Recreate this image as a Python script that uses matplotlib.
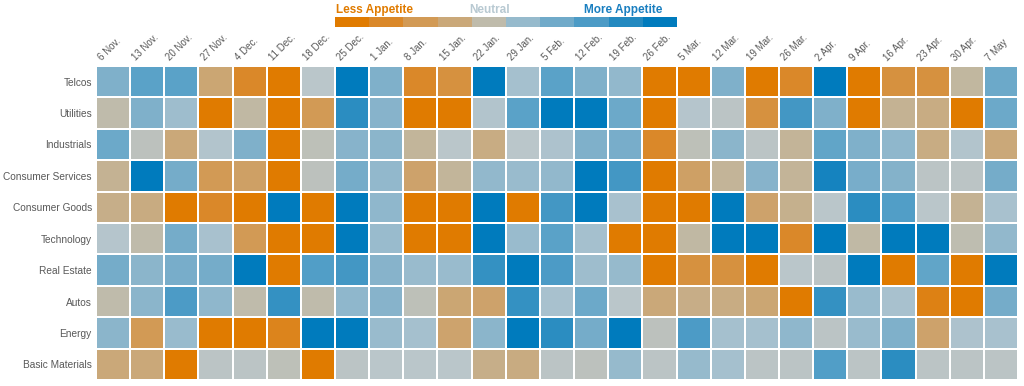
import matplotlib
matplotlib.use("Agg")
import matplotlib.pyplot as plt
import numpy as np
from matplotlib.colors import LinearSegmentedColormap, Normalize
from matplotlib import font_manager

dates = ["6 Nov.", "13 Nov.", "20 Nov.", "27 Nov.", "4 Dec.", "11 Dec.", "18 Dec.", "25 Dec.",
         "1 Jan.", "8 Jan.", "15 Jan.", "22 Jan.", "29 Jan.", "5 Feb.", "12 Feb.", "19 Feb.",
         "26 Feb.", "5 Mar.", "12 Mar.", "19 Mar.", "26 Mar.", "2 Apr.", "9 Apr.", "16 Apr.",
         "23 Apr.", "30 Apr.", "7 May"]
sectors = ["Telcos", "Utilities", "Industrials", "Consumer Services", "Consumer Goods",
           "Technology", "Real Estate", "Autos", "Energy", "Basic Materials"]

# appetite score: -5 = less appetite, 0 = neutral, +5 = more appetite
telcos = [2, 3, 3, -2, -4, -5, 0.5, 5, 2, -4, -3.5, 5, 1, 3, 2, 1.5, -5, -5, 2, -5, -4, 5, -5, -3.5, -3.5, -0.5, 2.5]
utilities = [0, 2, 1.2, -5, -0.3, -5, -3, 4, 1.8, -5, -5, 0.7, 3, 5, 5, 2.5, -5, 0.6, 0.4, -3.5, 3.5, 2, -5, -1, -1.5, -5, 2.5]
industrials = [2.5, 0.3, -1.8, 0.7, 2, -5, 0.2, 1.8, 1.7, -0.7, 0.5, -1.5, 0.5, 0.8, 2, 2.2, -4, 0.2, 1.7, 0.4, -0.8, 2.8, 2, 1.6, -1.5, 0.7, -1.8]
consumer_services = [-1, 5, 2.3, -3, -2.5, -5, 0.3, 2.3, 1.5, -2.3, -0.7, 1.5, 1.3, 1.5, 5, 3.5, -5, -2.5, -0.8, 1.8, -0.8, 4.5, 2.2, 1.9, 0.4, 0.4, 2.3]
consumer_goods = [-1.3, -1.6, -5, -4, -5, 5, -5, 5, 1.6, -5, -5, 5, -5, 3.5, 5, 0.9, -5, -5, 5, -2.3, -1.2, 0.5, 4, 3.2, 0.5, -1, 0.9]
technology = [0.6, 0, 2.3, 0.9, -3, -5, -5, 5, 1.3, -5, -5, 5, 1.3, 3, 1, -5, -5, -0.3, 5, 5, -4, 5, -0.2, 5, 5, 0.1, 1.5]
real_estate = [2.3, 1.7, 2.2, 2.3, 5, -5, 3.2, 3.5, 1.8, 1.3, 1.3, 3.8, 5, 3.3, 1.2, 1.4, -5, -3.5, -3.5, -5, 0.5, 0.4, 5, -5, 2.8, -5, 5]
autos = [0, 1.7, 3.3, 1.6, 0, 3.8, 0, 1.6, 1.8, 0.2, -2, -2.3, 3.8, 0.9, 2.5, 0.5, -1.8, -1.4, -1.5, -2, -5, 3.8, 1.3, 0.9, -4.5, -5, 2.3]
energy = [1.7, -3, 1.3, -5, -5, -4.3, 5, 5, 1.3, 1.0, -2.2, 1.7, 5, 4, 2.3, 5, 0.3, 3.3, 1.0, 1.0, 1.6, 0.4, 1.3, 2, -2.3, 0.8, 0.9]
basic_materials = [-1.8, -1.8, -5, 0.4, 0.4, 0.2, -5, 0.4, 0.5, 0.5, 0.5, -1.3, -1.6, 0.4, 0.3, 1.4, 0.4, 1.4, 1.0, 0.4, 0.4, 3.2, 0.4, 4, 0.4, 0.4, 0.4]

legend_values = [-5, -4, -3, -1.8, 0, 1.4, 2.4, 3.3, 4.2, 5]

values = np.array([telcos, utilities, industrials, consumer_services, consumer_goods,
                   technology, real_estate, autos, energy, basic_materials])

anchors = [(-5, "#E07B00"), (-4, "#DA882A"), (-3, "#D29A55"), (-2, "#CBA674"),
           (-1, "#C4B293"), (0, "#BFBBAA"), (0.5, "#BAC6CB"), (1, "#A5C0CE"),
           (2, "#80B0CA"), (3, "#5AA2C8"), (4, "#2C8DC1"), (5, "#007BBD")]
cmap = LinearSegmentedColormap.from_list(
    "appetite", [((v + 5) / 10, c) for v, c in anchors])
norm = Normalize(-5, 5)

installed = {f.name for f in font_manager.fontManager.ttflist}
narrow = "Liberation Sans Narrow" if "Liberation Sans Narrow" in installed else None
label_family = narrow if narrow else "Liberation Sans"
label_size = 8.5 if narrow else 7.3

W, H = 1024, 386
fig = plt.figure(figsize=(W / 100, H / 100), dpi=100)
ax = fig.add_axes([96 / W, 1 - 380 / H, (1018 - 96) / W, (380 - 66) / H])

nr, nc = values.shape
ax.pcolormesh(np.arange(nc + 1), np.arange(nr + 1), values, cmap=cmap, norm=norm,
              edgecolors="white", linewidth=1.3)
ax.set_xlim(0, nc)
ax.set_ylim(nr, 0)
for s in ax.spines.values():
    s.set_visible(False)
ax.set_xticks([])
ax.set_yticks(np.arange(nr) + 0.5)
ax.set_yticklabels(sectors, fontsize=label_size, color="#595959", family=label_family)
ax.tick_params(axis="y", length=0, pad=3)

for i, d in enumerate(dates):
    ax.text(i + 0.22, -0.1, d, rotation=45, rotation_mode="anchor", ha="left", va="bottom",
            fontsize=7.5 if narrow else 7, color="#595959", family=label_family)

# legend bar
lax = fig.add_axes([335 / W, 1 - 27 / H, 342 / W, 10 / H])
lax.pcolormesh(np.arange(len(legend_values) + 1), [0, 1], [legend_values], cmap=cmap,
               norm=norm, edgecolors="none")
lax.set_xlim(0, len(legend_values))
lax.set_axis_off()

fig.text(336 / W, 1 - 10 / H, "Less Appetite", ha="left", va="center", fontsize=8.5,
         fontweight="bold", color="#E07B00", family="Liberation Sans")
fig.text(490 / W, 1 - 10 / H, "Neutral", ha="center", va="center", fontsize=8.5,
         fontweight="bold", color="#B8C9D2", family="Liberation Sans")
fig.text(662 / W, 1 - 10 / H, "More Appetite", ha="right", va="center", fontsize=8.5,
         fontweight="bold", color="#1A7FC0", family="Liberation Sans")

fig.savefig("out.png", dpi=100)
